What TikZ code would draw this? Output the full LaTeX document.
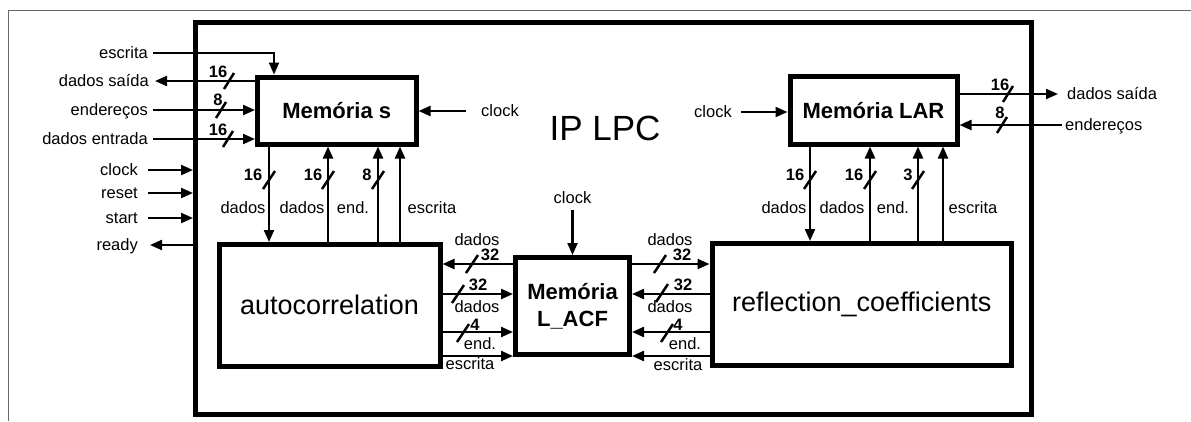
\documentclass[tikz,border=0pt]{standalone}
\usepackage{fontspec}
\setmainfont{Liberation Sans}
\usetikzlibrary{arrows.meta}
\begin{document}
\begin{tikzpicture}[x=1pt,y=-1pt,
  blk/.style={draw, line width=5pt, inner sep=0pt, align=center},
  memfont/.style={font=\bfseries\fontsize{22}{27}\selectfont},
  bigfont/.style={font=\fontsize{27}{29}\selectfont},
  lbl/.style={inner sep=0pt, font=\fontsize{16.5}{18}\selectfont, text height=11.5pt, text depth=0pt},
  bw/.style={inner sep=0pt, font=\bfseries\fontsize{16.5}{17}\selectfont, text height=11.5pt, text depth=0pt},
  wire/.style={line width=2.2pt},
  arr/.style={wire, -{Triangle[length=12pt,width=10pt]}},
  slash/.style={line width=2.5pt},
]
\useasboundingbox (0,0) rectangle (1191,421);
\draw[black!60, line width=1pt] (8,421) -- (8,10) -- (1191,10);

% blocks
\node[blk, minimum width=835.5pt, minimum height=391.5pt] (ip) at (613.25,218.25) {};
\node[inner sep=0pt, font=\fontsize{35}{35}\selectfont] (iplbl) at (605,128) {IP LPC};
\node[blk, memfont, minimum width=158.5pt, minimum height=67pt] (ms) at (336.75,110.5) {Memória s};
\node[blk, memfont, minimum width=167pt, minimum height=67.5pt] (lar) at (873.5,110.25) {Memória LAR};
\node[blk, bigfont, minimum width=221pt, minimum height=121.5pt] (ac) at (329.5,305.25) {autocorrelation};
\node[blk, memfont, minimum width=114pt, minimum height=97pt] (lacf) at (572.5,306) {Memória\\L\_ACF};
\node[blk, bigfont, minimum width=299.5pt, minimum height=122pt] (rc) at (861.75,304.5) {reflection\_coefficients};

% left external ports
\node[lbl, anchor=east] (lesc) at (148,53) {escrita};
\node[lbl, anchor=east] (lds) at (149,81) {dados saída};
\node[lbl, anchor=east] (lend) at (148,110) {endereços};
\node[lbl, anchor=east] (lden) at (148,139) {dados entrada};
\node[lbl, anchor=east] (lclk) at (138,170) {clock};
\node[lbl, anchor=east] (lrst) at (138,193) {reset};
\node[lbl, anchor=east] (lstart) at (138,218) {start};
\node[lbl, anchor=east] (lrdy) at (138,245) {ready};

\coordinate (xesc) at (274,0);
\draw[arr] ([xshift=5pt]lesc.east) -| (xesc |- ms.north);
\draw[arr] (ms.west |- lds) -- ([xshift=6pt]lds.east);
\draw[arr] ([xshift=5pt]lend.east) -- (ms.west |- lend);
\draw[arr] ([xshift=5pt]lden.east) -- (ms.west |- lden);
\draw[arr] ([xshift=10pt]lclk.east) -- (ip.west |- lclk);
\draw[arr] ([xshift=10pt]lrst.east) -- (ip.west |- lrst);
\draw[arr] ([xshift=10pt]lstart.east) -- (ip.west |- lstart);
\draw[arr] (ip.west |- lrdy) -- ([xshift=12pt]lrdy.east);

\draw[slash] (229,81) ++(-5,8) -- ++(10,-16);
\node[bw] (b1) at (218,72) {16};
\draw[slash] (221,110) ++(-5,8) -- ++(10,-16);
\node[bw] (b2) at (218,100) {8};
\draw[slash] (228,139) ++(-5,8) -- ++(10,-16);
\node[bw] (b3) at (218,130) {16};

% clocks
\node[lbl] (lmsclk) at (500,111) {clock};
\draw[arr] ([xshift=-15pt]lmsclk.west) -- (ms.east |- lmsclk);
\node[lbl] (llarclk) at (713,112) {clock};
\draw[arr] ([xshift=9pt]llarclk.east) -- (lar.west |- llarclk);
\node[lbl] (lacfclk) at (572.5,198) {clock};
\draw[arr] ([yshift=-6pt]lacfclk.south) -- (lacf.north);

% Memoria s <-> autocorrelation
\coordinate (xa1) at (269,0);
\coordinate (xa2) at (328,0);
\coordinate (xa3) at (378,0);
\coordinate (xa4) at (400,0);
\draw[arr] (xa1 |- ms.south) -- (xa1 |- ac.north);
\draw[arr] (xa2 |- ac.north) -- (xa2 |- ms.south);
\draw[arr] (xa3 |- ac.north) -- (xa3 |- ms.south);
\draw[arr] (xa4 |- ac.north) -- (xa4 |- ms.south);
\draw[slash] (269,180) ++(-6,9) -- ++(12,-18);
\draw[slash] (328,180) ++(-6,9) -- ++(12,-18);
\draw[slash] (378,180) ++(-6,9) -- ++(12,-18);
\node[bw] (b4) at (253,175) {16};
\node[bw] (b5) at (313,175) {16};
\node[bw] (b6) at (367,175) {8};
\node[lbl] (t1) at (243,208) {dados};
\node[lbl] (t2) at (302,208) {dados};
\node[lbl] (t3) at (353,208) {end.};
\node[lbl] (t4) at (432,208) {escrita};

% Memoria LAR <-> reflection_coefficients
\coordinate (xr1) at (810,0);
\coordinate (xr2) at (870,0);
\coordinate (xr3) at (918,0);
\coordinate (xr4) at (943,0);
\draw[arr] (xr1 |- lar.south) -- (xr1 |- rc.north);
\draw[arr] (xr2 |- rc.north) -- (xr2 |- lar.south);
\draw[arr] (xr3 |- rc.north) -- (xr3 |- lar.south);
\draw[arr] (xr4 |- rc.north) -- (xr4 |- lar.south);
\draw[slash] (810,180) ++(-6,9) -- ++(12,-18);
\draw[slash] (870,180) ++(-6,9) -- ++(12,-18);
\draw[slash] (918,180) ++(-6,9) -- ++(12,-18);
\node[bw] (b7) at (795,175) {16};
\node[bw] (b8) at (854,175) {16};
\node[bw] (b9) at (908,175) {3};
\node[lbl] (t5) at (784,208) {dados};
\node[lbl] (t6) at (842,208) {dados};
\node[lbl] (t7) at (893,208) {end.};
\node[lbl] (t8) at (973,208) {escrita};

% Memoria LAR right ports
\node[lbl, anchor=west] (lrds) at (1067,94) {dados saída};
\node[lbl, anchor=west] (lrend) at (1065,125) {endereços};
\draw[arr] (lar.east |- lrds) -- ([xshift=-9pt]lrds.west);
\draw[arr] ([xshift=-3pt]lrend.west) -- (lar.east |- lrend);
\draw[slash] (1008,94) ++(-5,8) -- ++(10,-16);
\node[bw] (b10) at (1000,85) {16};
\draw[slash] (1002,125) ++(-5,8) -- ++(10,-16);
\node[bw] (b11) at (1000,113) {8};

% autocorrelation <-> L_ACF <-> reflection_coefficients
\coordinate (y1) at (0,264);
\coordinate (y2) at (0,294);
\coordinate (y3) at (0,332);
\coordinate (y4) at (0,356);
\draw[arr] (lacf.west |- y1) -- (ac.east |- y1);
\draw[arr] (ac.east |- y2) -- (lacf.west |- y2);
\draw[arr] (ac.east |- y3) -- (lacf.west |- y3);
\draw[arr] (ac.east |- y4) -- (lacf.west |- y4);
\draw[arr] (lacf.east |- y1) -- (rc.west |- y1);
\draw[arr] (rc.west |- y2) -- (lacf.east |- y2);
\draw[arr] (rc.west |- y3) -- (lacf.east |- y3);
\draw[arr] (rc.west |- y4) -- (lacf.east |- y4);

\draw[slash] (472,264) ++(-6,9) -- ++(12,-18);
\draw[slash] (458,294) ++(-6,9) -- ++(12,-18);
\draw[slash] (463,333) ++(-6,9) -- ++(12,-18);
\node[lbl] (m1) at (477,240) {dados};
\node[bw] (m2) at (490,255) {32};
\node[bw] (m3) at (478,285) {32};
\node[lbl] (m4) at (477,307) {dados};
\node[bw] (m5) at (475,325) {4};
\node[lbl] (m6) at (480,344) {end.};
\node[lbl] (m7) at (470,364) {escrita};

\draw[slash] (660,264) ++(-6,9) -- ++(12,-18);
\draw[slash] (662,293) ++(-6,9) -- ++(12,-18);
\draw[slash] (667,333) ++(-6,9) -- ++(12,-18);
\node[lbl] (n1) at (670,240) {dados};
\node[bw] (n2) at (682,255) {32};
\node[bw] (n3) at (683,285) {32};
\node[lbl] (n4) at (670,307) {dados};
\node[bw] (n5) at (678,325) {4};
\node[lbl] (n6) at (685,344) {end.};
\node[lbl] (n7) at (678,365) {escrita};
\end{tikzpicture}
\end{document}
